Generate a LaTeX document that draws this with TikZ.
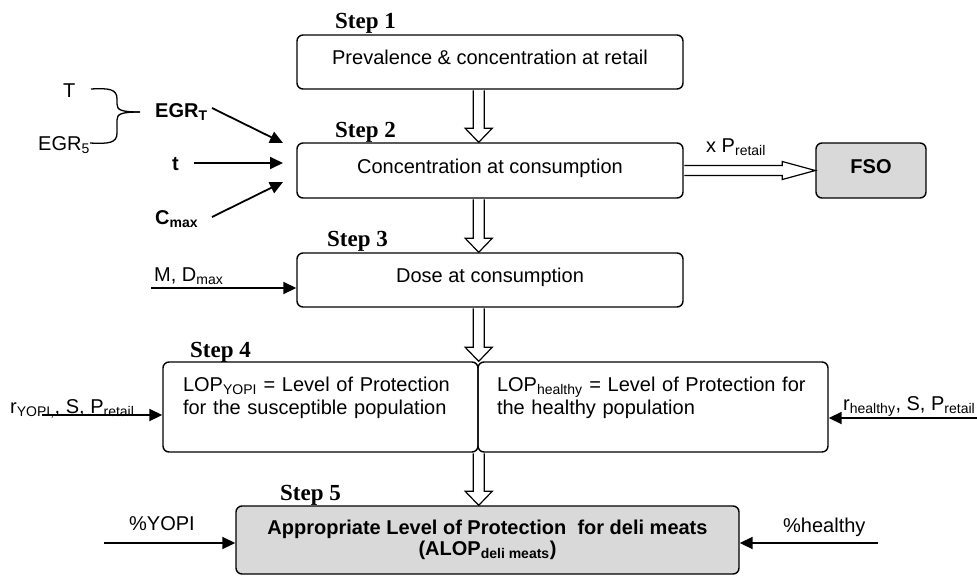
\documentclass[tikz,border=0pt]{standalone}
\usepackage{fontspec}
\setmainfont{Liberation Sans}
\newfontfamily\stepfont{Liberation Serif}
\usetikzlibrary{arrows.meta,calc}

\definecolor{boxgray}{RGB}{217,217,217}
\newcommand{\subtxt}[1]{\textsubscript{#1}}
\newcommand{\fatdown}[2]{\draw[hollow] ($(#1)+(-5.5,0.7)$) -- ($(#2)+(-5.5,-14)$) -- ++(-8,0) -- (#2) -- ++(13.5,-14) -- ++(-8,0) -- ($(#1)+(5.5,0.7)$);}

\begin{document}
\begin{tikzpicture}[x=1pt,y=-1pt]

	\tikzset{stepbox/.style = {draw, line width=1.4pt, rounded corners=6pt, inner sep=0pt, font=\fontsize{20}{23}\selectfont}}
	\tikzset{oneline/.style = {text height=15pt, text depth=10pt}}
	\tikzset{steplabel/.style = {anchor=base west, inner sep=0pt, font=\stepfont\bfseries\fontsize{23}{25}\selectfont}}
	\tikzset{txt/.style = {anchor=base west, inner sep=0pt, font=\fontsize{20}{23}\selectfont}}
	\tikzset{feed/.style = {line width=1.8pt, -{Triangle[length=13pt,width=12pt]}}}
	\tikzset{hollow/.style = {draw, line width=1.2pt, fill=white}}

	\useasboundingbox (0,0) rectangle (977,576);

	% the five steps
	\node[stepbox, oneline, minimum width=386pt, minimum height=54pt] (ret) at (490,62) {Prevalence \& concentration at retail};
	\node[stepbox, oneline, minimum width=386pt, minimum height=55pt] (conc) at (490,170.5) {Concentration at consumption};
	\node[stepbox, oneline, minimum width=386pt, minimum height=54pt] (dose) at (490,280) {Dose at consumption};
	\node[stepbox, text height=15pt, text depth=47pt, minimum width=315pt, minimum height=90pt, text width=275pt, align=left] (lopy) at (320.5,407) {LOP\subtxt{YOPI} = Level of Protection\\for the susceptible population};
	\node[stepbox, text height=15pt, text depth=47pt, minimum width=350pt, minimum height=90pt, text width=312pt, align=left] (loph) at (653,407) {LOP\subtxt{healthy} = Level of Protection for\\the healthy population};
	\node[stepbox, fill=boxgray, minimum width=503pt, minimum height=68pt, align=center, font=\fontsize{20}{20.5}\selectfont\bfseries] (alop) at (487.5,540) {Appropriate Level of Protection\ \ for deli meats\\(ALOP\subtxt{deli meats})};
	\node[stepbox, oneline, fill=boxgray, minimum width=110pt, minimum height=55pt, font=\fontsize{20}{23}\selectfont\bfseries] (fso) at (871,170.5) {FSO};

	\node[steplabel] (s1) at (335,28) {Step 1};
	\node[steplabel] (s2) at (335,137) {Step 2};
	\node[steplabel] (s3) at (327,246) {Step 3};
	\node[steplabel] (s4) at (190,357) {Step 4};
	\node[steplabel] (s5) at (280,500) {Step 5};

	% hollow arrows between the steps
	\fatdown{ret.south -| lopy.east}{conc.north -| lopy.east}
	\fatdown{conc.south -| lopy.east}{dose.north -| lopy.east}
	\fatdown{dose.south -| lopy.east}{lopy.north east}
	\fatdown{lopy.south east}{alop.north -| lopy.south east}
	\draw[hollow] ($(conc.east)+(0.7,-5)$) -- ($(fso.west)+(-33,-5)$) -- ++(0,-4) -- (fso.west) -- ++(-33,9) -- ++(0,-4) -- ($(conc.east)+(0.7,5)$);
	\node[txt] (pret) at (706,152) {x P\subtxt{retail}};

	% inputs of step 2
	\node[txt] (temp) at (63,97) {T};
	\node[txt] (egr5) at (38,150) {EGR\subtxt{5}};
	\node[txt, font=\fontsize{20}{23}\selectfont\bfseries] (egrT) at (155,117) {EGR\subtxt{T}};
	\node[txt, font=\fontsize{20}{23}\selectfont\bfseries] (tt) at (172,170) {t};
	\node[txt, font=\fontsize{20}{23}\selectfont\bfseries] (cmax) at (155,224) {C\subtxt{max}};
	\draw[line width=1.3pt] (91,89) .. controls (109,88) and (117,89) .. (117,99) -- (117,104) .. controls (117,110) and (121,112) .. (140,112);
	\draw[line width=1.3pt] (90,143) .. controls (109,144) and (117,143) .. (117,133) -- (117,120) .. controls (117,114) and (121,112) .. (140,112);

	\coordinate (egrTend) at (283,143);
	\coordinate (ttend) at (283,163);
	\coordinate (cmaxend) at (283,182);
	\draw[feed] (212,108) -- (egrTend);
	\draw[feed] (ttend -| tt.east) ++(15,0) -- (ttend);
	\draw[feed] (212,217) -- (cmaxend);

	% inputs of steps 3, 4 and 5
	\node[txt] (mdmax) at (154,281) {M, D\subtxt{max}};
	\coordinate (mstart) at (151,288);
	\draw[feed] (mstart) -- (mstart -| dose.west);

	\node[txt] (ry) at (10,413) {r\subtxt{YOPI,}, S, P\subtxt{retail}};
	\coordinate (rystart) at (42,415);
	\draw[feed] (rystart) -- (rystart -| lopy.west);
	\node[txt] (rh) at (843,410) {r\subtxt{healthy}, S, P\subtxt{retail}};
	\coordinate (rhstart) at (977,418);
	\draw[feed] (rhstart) -- (rhstart -| loph.east);

	\node[txt] (py) at (129,530) {\%YOPI};
	\coordinate (pystart) at (104,543);
	\draw[feed] (pystart) -- (pystart -| alop.west);
	\node[txt] (ph) at (783,532) {\%healthy};
	\coordinate (phstart) at (878,543);
	\draw[feed] (phstart) -- (phstart -| alop.east);

\end{tikzpicture}
\end{document}
